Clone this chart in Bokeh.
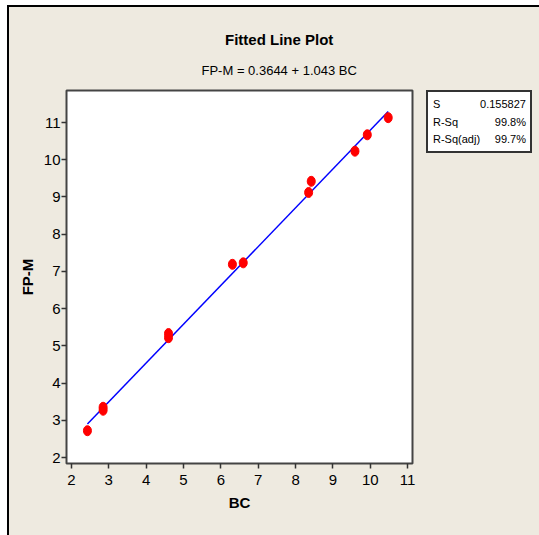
from bokeh.plotting import figure
from bokeh.models import Range1d, FixedTicker, Title, Div
from bokeh.layouts import row
from bokeh.embed import file_html
from bokeh.resources import INLINE

# ---- data ----
BC = [2.43, 2.85, 2.85, 4.60, 4.60, 6.31, 6.60, 8.35, 8.42, 9.59, 9.92, 10.48]
FPM = [2.72, 3.35, 3.27, 5.33, 5.22, 7.19, 7.23, 9.12, 9.42, 10.23, 10.67, 11.13]
intercept = 0.3644
slope = 1.043
x_ticks = [2, 3, 4, 5, 6, 7, 8, 9, 10, 11]
y_ticks = [2, 3, 4, 5, 6, 7, 8, 9, 10, 11]
title_text = "Fitted Line Plot"
subtitle_text = "FP-M = 0.3644 + 1.043 BC"
stat_names = ["S", "R-Sq", "R-Sq(adj)"]
stat_values = ["0.155827", "99.8%", "99.7%"]

# ---- layout (page px) ----
OX, OY = 9, 7          # where the children start (margin + border)
H = 535 - OY
FL, FR, FT, FB = 66, 412, 90, 463   # main frame
SPLIT = 420                          # end of main figure
BL, BR, BB = 426, 532, 153           # stats box
X0, X1 = 1.87, 11.13
Y0, Y1 = 1.839, 11.86
BG = "#EEEAE0"
FONT = "Liberation Sans"

p = figure(width=SPLIT - OX, height=H, output_backend="svg", toolbar_location=None,
           x_range=Range1d(X0, X1), y_range=Range1d(Y0, Y1),
           min_border_left=FL - OX, min_border_right=SPLIT - FR,
           min_border_top=FT - OY, min_border_bottom=H - (FB - OY))
p.border_fill_color = BG
p.background_fill_color = "white"
p.outline_line_color = "#444444"
p.outline_line_width = 2
p.grid.visible = False

for ax, ticks, lab in ((p.xaxis, x_ticks, "BC"), (p.yaxis, y_ticks, "FP-M")):
    ax.ticker = FixedTicker(ticks=ticks)
    ax.axis_line_color = None
    ax.major_tick_line_color = "#333333"
    ax.major_tick_line_width = 1.5
    ax.major_tick_out = 5
    ax.major_tick_in = 0
    ax.minor_tick_line_color = None
    ax.major_label_text_font = FONT
    ax.major_label_text_font_size = "15px"
    ax.major_label_text_color = "black"
    ax.axis_label = lab
    ax.axis_label_text_font = FONT
    ax.axis_label_text_font_size = "15px"
    ax.axis_label_text_font_style = "bold"
    ax.axis_label_text_color = "black"
p.xaxis.major_label_standoff = 6
p.xaxis.axis_label_standoff = 6
p.yaxis.major_label_standoff = 1
p.yaxis.axis_label_standoff = 5

# titles (subtitle first: it sits nearer the frame)
p.add_layout(Title(text=subtitle_text, align="left", offset=201 - FL, standoff=26,
                   text_font=FONT, text_font_size="13px", text_font_style="normal",
                   text_color="black"), "above")
p.add_layout(Title(text=title_text, align="left", offset=224.5 - FL, standoff=0,
                   text_font=FONT, text_font_size="15px", text_font_style="bold",
                   text_color="black"), "above")

# fitted line
xs = [min(BC), max(BC)]
ys = [intercept + slope * v for v in xs]
p.line(xs, ys, line_color="#0000FF", line_width=1.5)

# points
p.ellipse(x=BC, y=FPM, width=8, height=10, width_units="screen",
          height_units="screen", fill_color="#FF0000", line_color="#FF0000")

# ---- stats box ----
rows_html = "".join(
    f'<tr style="height:17.5px"><td style="padding:0">{n}</td>'
    f'<td style="padding:0;text-align:right">{v}</td></tr>'
    for n, v in zip(stat_names, stat_values))
html = (f'<div style="padding:4px 1px 0 5px">'
        f'<table style="width:100%;border-collapse:collapse;font-family:\'{FONT}\';'
        f'font-size:11px;color:black;line-height:13px">{rows_html}</table></div>')
box = Div(text=html, width=BR - BL, height=BB - FT,
          margin=(FT - OY, 539 - BR, 0, BL - SPLIT),
          styles={"background-color": "white", "border": "2px solid #333333",
                  "box-sizing": "border-box"})

layout = row(p, box, margin=(5, 0, 0, 7),
             styles={"border-top": "2px solid black", "border-left": "2px solid black",
                     "background-color": BG})

open("out.html", "w").write(file_html(layout, INLINE))
